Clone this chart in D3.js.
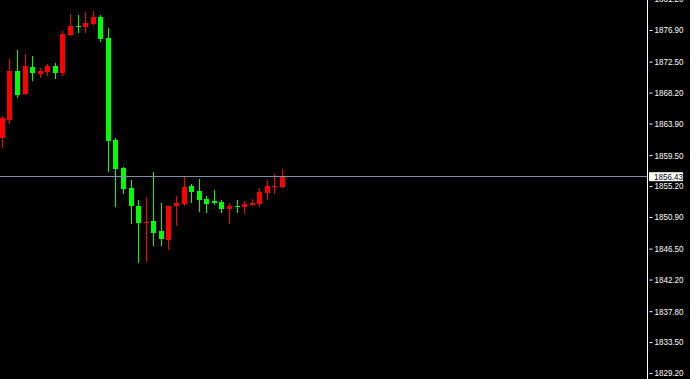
<!DOCTYPE html>
<html>
<head>
<meta charset="utf-8">
<script src="https://cdn.jsdelivr.net/npm/d3@7"></script>
<style>
  html, body { margin: 0; padding: 0; background: #000; }
  svg { display: block; }
</style>
</head>
<body>
<script>
// ---- data ----
const categories = d3.range(1, 39).map(i => "bar" + i);
const opens  = [1861.88,1864.38,1871.20,1868.00,1871.75,1870.78,1871.06,1871.89,1870.92,1876.20,
                1877.46,1877.32,1877.73,1878.71,1875.79,1861.60,1857.71,1854.93,1852.42,1850.20,
                1850.34,1848.95,1847.70,1852.42,1852.70,1855.21,1854.51,1853.40,1853.12,1852.98,
                1852.01,1852.45,1852.29,1852.56,1852.70,1854.23,1855.21,1855.07];
const highs  = [1864.90,1872.87,1874.12,1873.56,1873.28,1871.62,1872.17,1872.31,1876.76,1879.13,
                1878.99,1879.40,1879.54,1878.99,1877.18,1861.88,1857.85,1856.04,1853.26,1853.68,
                1857.15,1852.84,1852.45,1853.81,1856.60,1855.48,1856.18,1853.81,1854.65,1853.26,
                1852.84,1853.26,1853.12,1853.40,1854.93,1856.04,1856.87,1857.57];
const lows   = [1860.49,1863.83,1867.44,1867.86,1869.81,1870.22,1870.50,1870.09,1870.50,1876.07,
                1876.48,1876.48,1877.60,1875.23,1857.19,1852.33,1854.09,1849.92,1844.50,1844.64,
                1846.86,1846.86,1846.31,1849.64,1852.42,1852.84,1851.59,1851.45,1852.56,1851.45,
                1849.92,1851.45,1851.31,1852.42,1852.29,1853.26,1854.09,1854.93];
const closes = [1864.66,1871.20,1867.86,1871.89,1870.92,1871.20,1871.89,1870.92,1876.34,1877.46,
                1877.40,1877.87,1878.71,1875.65,1861.46,1857.57,1854.79,1852.42,1850.06,1850.25,
                1848.67,1847.84,1852.42,1852.84,1855.07,1854.37,1853.26,1852.70,1852.90,1852.01,
                1852.42,1852.40,1852.70,1852.84,1854.37,1855.21,1855.25,1856.43];
const tickValues = [1881.20,1876.90,1872.50,1868.20,1863.90,1859.50,1855.20,
                    1850.90,1846.50,1842.20,1837.80,1833.50,1829.20];
const currentPrice = 1856.43;

// ---- layout ----
const W = 690, H = 379;
const axisX = 647;
const upColor = "#ff0000", downColor = "#00ff00";

const svg = d3.select("body").append("svg")
  .attr("width", W).attr("height", H)
  .style("background", "#000");

const x = d3.scalePoint().domain(categories).range([2.3, 282.5]);
const y = d3.scaleLinear().domain([1828.37, 1881.07]).range([H, 0]);

const bars = categories.map((c, i) => ({
  c, o: opens[i], h: highs[i], l: lows[i], cl: closes[i]
}));

const g = svg.append("g");
const colorOf = d => d.cl >= d.o ? upColor : downColor;

// wicks
g.selectAll("line.wick").data(bars).join("line")
  .attr("class", "wick")
  .attr("x1", d => Math.floor(x(d.c)) + 0.5)
  .attr("x2", d => Math.floor(x(d.c)) + 0.5)
  .attr("y1", d => y(d.h))
  .attr("y2", d => y(d.l))
  .attr("stroke", colorOf)
  .attr("stroke-width", 1)
  .attr("shape-rendering", "crispEdges");

// bodies
g.selectAll("rect.body").data(bars).join("rect")
  .attr("class", "body")
  .attr("x", d => Math.floor(x(d.c)) - 2)
  .attr("width", 5)
  .attr("y", d => y(Math.max(d.o, d.cl)))
  .attr("height", d => Math.max(1, Math.abs(y(d.o) - y(d.cl))))
  .attr("fill", colorOf)
  .attr("shape-rendering", "crispEdges");

// current price line
svg.append("line")
  .attr("x1", 0).attr("x2", axisX)
  .attr("y1", Math.round(y(currentPrice)) - 0.5)
  .attr("y2", Math.round(y(currentPrice)) - 0.5)
  .attr("stroke", "#7f8fa6")
  .attr("stroke-width", 1)
  .attr("shape-rendering", "crispEdges");

// right axis
const axis = d3.axisRight(y)
  .tickValues(tickValues)
  .tickFormat(d3.format(".2f"))
  .tickSize(5)
  .tickSizeOuter(0)
  .tickPadding(2);

const ag = svg.append("g")
  .attr("transform", `translate(${axisX + 0.5},0)`)
  .call(axis);
ag.select(".domain").attr("stroke", "#fff").attr("d", `M0,0V${H}`);
ag.selectAll(".tick line").attr("stroke", "#fff").attr("x1", 2);
ag.selectAll(".tick text")
  .attr("fill", "#fff")
  .attr("font-family", "Liberation Sans, Arial, sans-serif")
  .attr("font-size", 9)
  .attr("textLength", 29)
  .attr("lengthAdjust", "spacingAndGlyphs");

// current price label box
const cpY = y(currentPrice) - 0.5;
const lab = svg.append("g");
lab.append("rect")
  .attr("x", axisX + 2).attr("y", cpY - 4.5)
  .attr("width", 34).attr("height", 9)
  .attr("fill", "#fff");
lab.append("text")
  .attr("x", axisX + 7).attr("y", cpY)
  .attr("dy", "0.32em")
  .attr("fill", "#000")
  .attr("font-family", "Liberation Sans, Arial, sans-serif")
  .attr("font-size", 9)
  .attr("textLength", 29)
  .attr("lengthAdjust", "spacingAndGlyphs")
  .text(d3.format(".2f")(currentPrice));
</script>
</body>
</html>
